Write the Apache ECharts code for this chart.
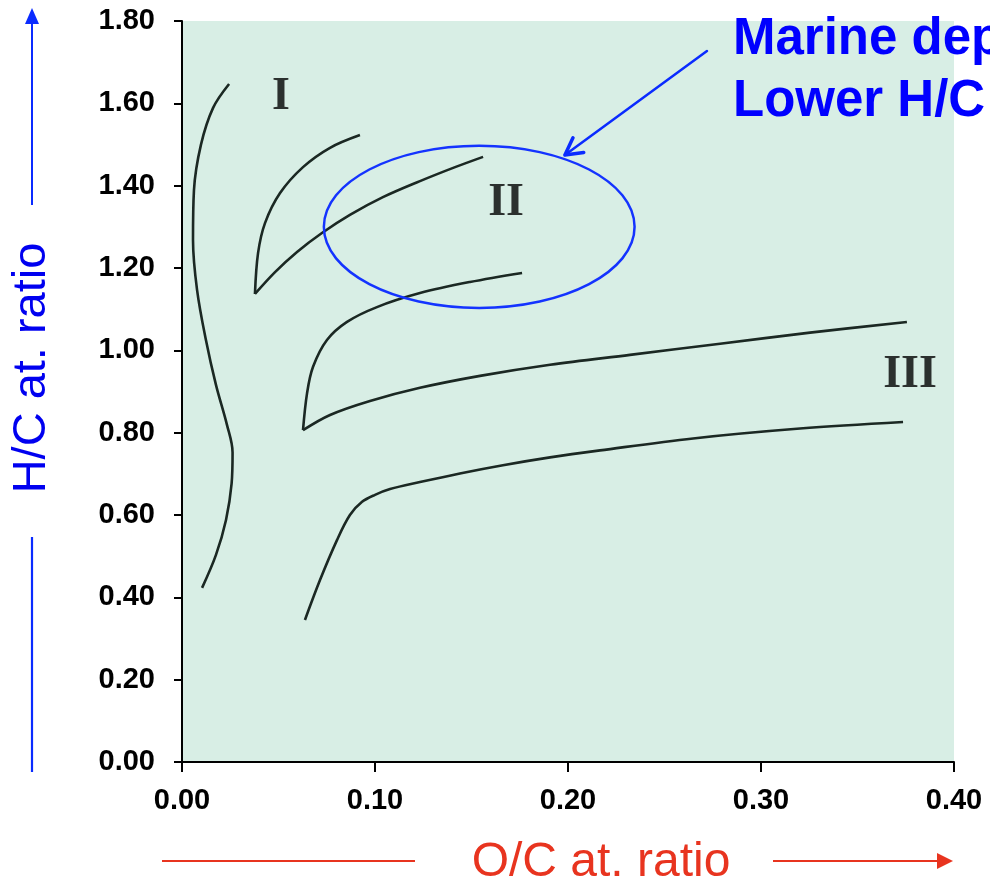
<!DOCTYPE html>
<html>
<head>
<meta charset="utf-8">
<script src="https://cdn.jsdelivr.net/npm/echarts@6/dist/echarts.min.js"></script>
<style>
  html, body { margin: 0; padding: 0; background: #ffffff; }
  #chart { width: 990px; height: 886px; }
</style>
</head>
<body>
<div id="chart"></div>
<script>
// Van Krevelen diagram: H/C vs O/C atomic ratios with kerogen type boundaries

const xTicks = [0.0, 0.1, 0.2, 0.3, 0.4];
const yTicks = [0.0, 0.2, 0.4, 0.6, 0.8, 1.0, 1.2, 1.4, 1.6, 1.8];

// Left boundary of the type I field
const boundaryA = [
  [0.0244, 1.647], [0.0161, 1.589], [0.0098, 1.499], [0.0062, 1.389],
  [0.0057, 1.268], [0.0078, 1.147], [0.0124, 1.025], [0.0176, 0.916],
  [0.0233, 0.819], [0.0262, 0.752], [0.0257, 0.676], [0.0228, 0.588],
  [0.0176, 0.503], [0.0104, 0.423]
];

// Type I / II boundary, upper branch (down to the cusp)
const boundaryBUpper = [
  [0.0922, 1.523], [0.0767, 1.492], [0.0627, 1.445], [0.0508, 1.382],
  [0.0430, 1.309], [0.0394, 1.236], [0.0378, 1.137]
];

// Type I / II boundary, lower branch (from the cusp)
const boundaryBLower = [
  [0.0378, 1.137], [0.0482, 1.190], [0.0596, 1.239], [0.0725, 1.285],
  [0.0870, 1.329], [0.1041, 1.372], [0.1233, 1.411], [0.1415, 1.445],
  [0.1560, 1.470]
];

// Type II / III boundary, upper branch (down to the cusp)
const boundaryCUpper = [
  [0.1762, 1.188], [0.1492, 1.166], [0.1233, 1.139], [0.1010, 1.105],
  [0.0855, 1.069], [0.0751, 1.025], [0.0679, 0.960], [0.0648, 0.896],
  [0.0627, 0.806]
];

// Type II / III boundary, lower branch (from the cusp)
const boundaryCLower = [
  [0.0627, 0.806], [0.0767, 0.843], [0.0974, 0.877], [0.1233, 0.909],
  [0.1544, 0.938], [0.1907, 0.965], [0.2321, 0.989], [0.2788, 1.016],
  [0.3254, 1.043], [0.3756, 1.069]
];

// Lower boundary of the type III field
const boundaryD = [
  [0.0637, 0.345], [0.0715, 0.442], [0.0803, 0.539], [0.0870, 0.600],
  [0.0933, 0.632], [0.1000, 0.649], [0.1078, 0.663], [0.1233, 0.680],
  [0.1440, 0.701], [0.1663, 0.721], [0.1907, 0.740], [0.2166, 0.757],
  [0.2648, 0.786], [0.3202, 0.810], [0.3736, 0.826]
];

// Kerogen type names and where they sit
const typeNames = ['I', 'II', 'III'];
const typeNameAt = [[0.0513, 1.615], [0.1679, 1.358], [0.3772, 0.940]];

// Highlighted marine region: centre x, centre y, radius x, radius y
const marineZone = [[0.154, 1.30, 0.0805, 0.197]];
// Pointer from the note to the region: from x, from y, to x, to y
const marinePointer = [[0.2720, 1.727, 0.1984, 1.4745]];

const noteLines = ['Marine deposits', 'Lower H/C ratio'];
const xTitle = 'O/C at. ratio';
const yTitle = 'H/C at. ratio';

const SANS = "'Liberation Sans', Arial, Helvetica, sans-serif";
const SERIF = "'Liberation Serif', 'Times New Roman', serif";
const CURVE = '#1b2823';
const BLUE = '#0a2bff';
const RED = '#e8341f';

const chart = echarts.init(document.getElementById('chart'), null, { renderer: 'canvas' });

function curve(data) {
  return {
    type: 'line',
    data: data,
    smooth: 0.35,
    symbol: 'none',
    silent: true,
    lineStyle: { color: CURVE, width: 2.6 },
    z: 3
  };
}

const option = {
  animation: false,
  backgroundColor: '#ffffff',
  grid: {
    left: 182, right: 36, top: 21, bottom: 124,
    show: true, backgroundColor: '#d8eee5', borderWidth: 0,
    containLabel: false, outerBoundsMode: 'none'
  },
  xAxis: {
    type: 'value',
    min: xTicks[0], max: xTicks[xTicks.length - 1], interval: 0.1,
    axisLine: { show: true, onZero: false, lineStyle: { color: '#000', width: 2 } },
    axisTick: { show: true, inside: false, length: 10, lineStyle: { color: '#000', width: 2 } },
    axisLabel: {
      margin: 24, color: '#000', fontFamily: SANS, fontWeight: 'bold', fontSize: 29,
      formatter: v => v.toFixed(2)
    },
    splitLine: { show: false }
  },
  yAxis: {
    type: 'value',
    min: yTicks[0], max: yTicks[yTicks.length - 1], interval: 0.2,
    axisLine: { show: true, onZero: false, lineStyle: { color: '#000', width: 2 } },
    axisTick: { show: true, inside: false, length: 8, lineStyle: { color: '#000', width: 2 } },
    axisLabel: {
      margin: 27, color: '#000', fontFamily: SANS, fontWeight: 'bold', fontSize: 29,
      formatter: v => v.toFixed(2)
    },
    splitLine: { show: false }
  },
  series: [
    curve(boundaryA),
    curve(boundaryBUpper),
    curve(boundaryBLower),
    curve(boundaryCUpper),
    curve(boundaryCLower),
    curve(boundaryD),
    {
      type: 'scatter',
      silent: true,
      symbolSize: 1,
      itemStyle: { color: 'rgba(0,0,0,0)' },
      data: typeNameAt.map((p, i) => [p[0], p[1], typeNames[i]]),
      label: {
        show: true, position: 'inside',
        formatter: p => p.value[2],
        fontFamily: SERIF, fontWeight: 'bold', fontSize: 46, color: '#000'
      },
      z: 4
    },
    {
      type: 'custom',
      silent: true,
      clip: false,
      data: marineZone,
      renderItem: (params, api) => {
        const c = api.coord([api.value(0), api.value(1)]);
        const s = api.size([api.value(2), api.value(3)]);
        return {
          type: 'ellipse',
          shape: { cx: c[0], cy: c[1], rx: s[0], ry: s[1] },
          style: { fill: 'none', stroke: '#1433ff', lineWidth: 2.5 }
        };
      },
      z: 5
    },
    {
      type: 'custom',
      silent: true,
      clip: false,
      data: marinePointer,
      renderItem: (params, api) => {
        const a = api.coord([api.value(0), api.value(1)]);
        const b = api.coord([api.value(2), api.value(3)]);
        const ang = Math.atan2(a[1] - b[1], a[0] - b[0]);
        const len = 19, spread = 0.5;
        const arm1 = [b[0] + len * Math.cos(ang + spread), b[1] + len * Math.sin(ang + spread)];
        const arm2 = [b[0] + len * Math.cos(ang - spread), b[1] + len * Math.sin(ang - spread)];
        const st = { stroke: BLUE, lineWidth: 2.5, fill: 'none', lineCap: 'round', lineJoin: 'round' };
        return {
          type: 'group',
          children: [
            { type: 'line', shape: { x1: a[0], y1: a[1], x2: b[0], y2: b[1] }, style: st },
            { type: 'polyline', shape: { points: [arm1, b, arm2] }, style: Object.assign({}, st, { lineWidth: 3.5 }) }
          ]
        };
      },
      z: 5
    }
  ],
  graphic: [
    // note in the upper right
    {
      type: 'text', x: 733, y: 40, z: 10,
      style: { text: noteLines[0], fill: '#0000ff', font: 'bold 51px ' + SANS, textVerticalAlign: 'middle', textAlign: 'left' }
    },
    {
      type: 'text', x: 733, y: 102, z: 10,
      style: { text: noteLines[1], fill: '#0000ff', font: 'bold 51px ' + SANS, textVerticalAlign: 'middle', textAlign: 'left' }
    },
    // vertical axis title with its arrow
    {
      type: 'text', x: 32, y: 368, rotation: Math.PI / 2, z: 10,
      style: { text: yTitle, fill: '#0000f0', font: '47px ' + SANS, textAlign: 'center', textVerticalAlign: 'middle' }
    },
    { type: 'line', z: 10, shape: { x1: 32, y1: 205, x2: 32, y2: 20 }, style: { stroke: BLUE, lineWidth: 2 } },
    { type: 'polygon', z: 10, shape: { points: [[32, 8], [39, 24], [25, 24]] }, style: { fill: BLUE } },
    { type: 'line', z: 10, shape: { x1: 32, y1: 537, x2: 32, y2: 772 }, style: { stroke: BLUE, lineWidth: 2.2 } },
    // horizontal axis title with its arrow
    {
      type: 'text', x: 601, y: 863, z: 10,
      style: { text: xTitle, fill: RED, font: '48px ' + SANS, textAlign: 'center', textVerticalAlign: 'middle' }
    },
    { type: 'line', z: 10, shape: { x1: 162, y1: 861, x2: 415, y2: 861 }, style: { stroke: RED, lineWidth: 2 } },
    { type: 'line', z: 10, shape: { x1: 773, y1: 861, x2: 940, y2: 861 }, style: { stroke: RED, lineWidth: 2 } },
    { type: 'polygon', z: 10, shape: { points: [[953, 861], [937, 853], [937, 869]] }, style: { fill: RED } }
  ]
};

chart.setOption(option);
</script>
</body>
</html>
